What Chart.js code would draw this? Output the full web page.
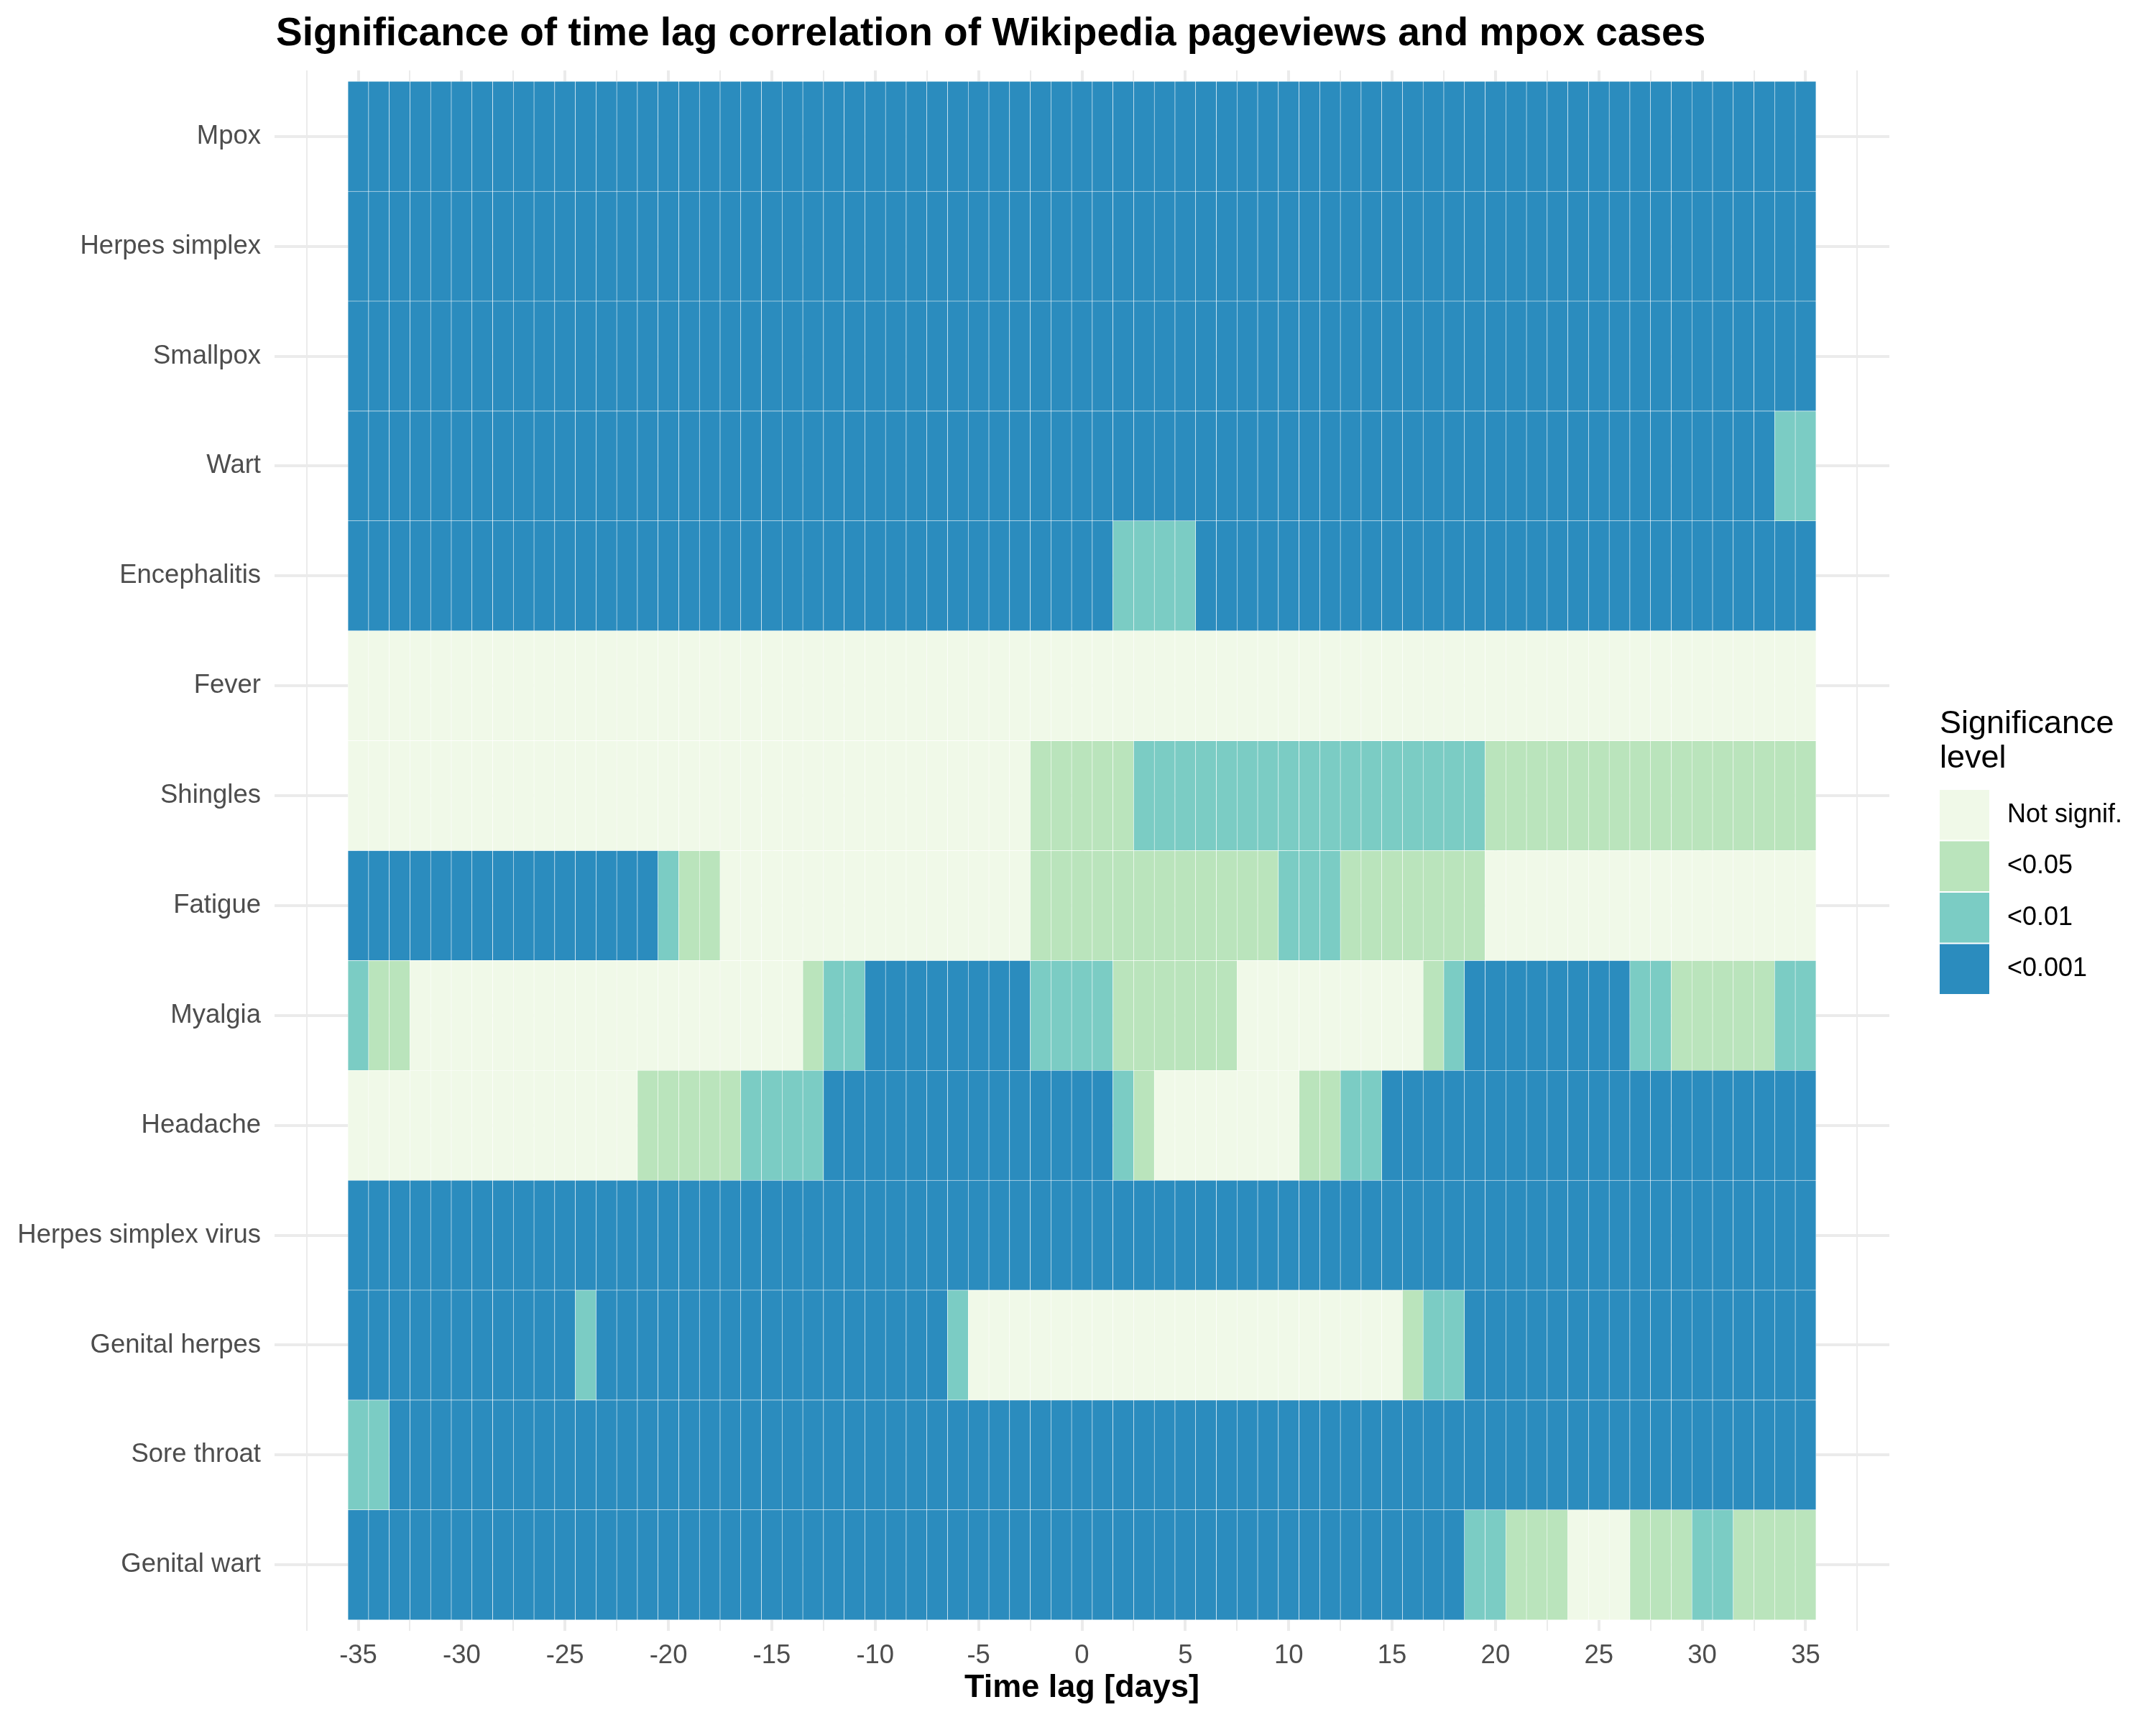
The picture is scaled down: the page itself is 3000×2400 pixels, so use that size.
<!DOCTYPE html>
<html>
<head>
<meta charset="utf-8">
<title>Significance of time lag correlation</title>
<script src="https://cdn.jsdelivr.net/npm/chart.js@4.4.1/dist/chart.umd.min.js"></script>
<style>
  body { margin: 0; background: #ffffff; }
  #wrap { width: 3000px; height: 2400px; }
</style>
</head>
<body>
<div id="wrap"><canvas id="chart-heat" width="3000" height="2400"></canvas></div>
<script>
// ─── DATA ────────────────────────────────────────────────────────────────────

const TITLE = 'Significance of time lag correlation of Wikipedia pageviews and mpox cases';

const lags = [-35, -34, -33, -32, -31, -30, -29, -28, -27, -26, -25, -24, -23, -22, -21, -20, -19, -18,
    -17, -16, -15, -14, -13, -12, -11, -10, -9, -8, -7, -6, -5, -4, -3, -2, -1, 0, 1, 2, 3, 4, 5, 6, 7, 8,
    9, 10, 11, 12, 13, 14, 15, 16, 17, 18, 19, 20, 21, 22, 23, 24, 25, 26, 27, 28, 29, 30, 31, 32, 33, 34, 35];

const majorTicks = [-35, -30, -25, -20, -15, -10, -5, 0, 5, 10, 15, 20, 25, 30, 35];

const rowNames = ['Mpox', 'Herpes simplex', 'Smallpox', 'Wart', 'Encephalitis', 'Fever', 'Shingles',
    'Fatigue', 'Myalgia', 'Headache', 'Herpes simplex virus', 'Genital herpes', 'Sore throat', 'Genital wart'];

// 0 = not significant, 1 = <0.05, 2 = <0.01, 3 = <0.001
const levelLabels = ['Not signif.', '<0.05', '<0.01', '<0.001'];
const levelColors = ['#f0f9e8', '#bae4bc', '#7bccc4', '#2b8cbe'];

// one value per lag, -35 … 35 (groups of ten)
const sigMpox = [3,3,3,3,3,3,3,3,3,3, 3,3,3,3,3,3,3,3,3,3, 3,3,3,3,3,3,3,3,3,3, 3,3,3,3,3,3,3,3,3,3, 3,3,3,3,3,3,3,3,3,3, 3,3,3,3,3,3,3,3,3,3, 3,3,3,3,3,3,3,3,3,3, 3];
const sigHerpesSimplex = [3,3,3,3,3,3,3,3,3,3, 3,3,3,3,3,3,3,3,3,3, 3,3,3,3,3,3,3,3,3,3, 3,3,3,3,3,3,3,3,3,3, 3,3,3,3,3,3,3,3,3,3, 3,3,3,3,3,3,3,3,3,3, 3,3,3,3,3,3,3,3,3,3, 3];
const sigSmallpox = [3,3,3,3,3,3,3,3,3,3, 3,3,3,3,3,3,3,3,3,3, 3,3,3,3,3,3,3,3,3,3, 3,3,3,3,3,3,3,3,3,3, 3,3,3,3,3,3,3,3,3,3, 3,3,3,3,3,3,3,3,3,3, 3,3,3,3,3,3,3,3,3,3, 3];
const sigWart = [3,3,3,3,3,3,3,3,3,3, 3,3,3,3,3,3,3,3,3,3, 3,3,3,3,3,3,3,3,3,3, 3,3,3,3,3,3,3,3,3,3, 3,3,3,3,3,3,3,3,3,3, 3,3,3,3,3,3,3,3,3,3, 3,3,3,3,3,3,3,3,3,2, 2];
const sigEncephalitis = [3,3,3,3,3,3,3,3,3,3, 3,3,3,3,3,3,3,3,3,3, 3,3,3,3,3,3,3,3,3,3, 3,3,3,3,3,3,3,2,2,2, 2,3,3,3,3,3,3,3,3,3, 3,3,3,3,3,3,3,3,3,3, 3,3,3,3,3,3,3,3,3,3, 3];
const sigFever = [0,0,0,0,0,0,0,0,0,0, 0,0,0,0,0,0,0,0,0,0, 0,0,0,0,0,0,0,0,0,0, 0,0,0,0,0,0,0,0,0,0, 0,0,0,0,0,0,0,0,0,0, 0,0,0,0,0,0,0,0,0,0, 0,0,0,0,0,0,0,0,0,0, 0];
const sigShingles = [0,0,0,0,0,0,0,0,0,0, 0,0,0,0,0,0,0,0,0,0, 0,0,0,0,0,0,0,0,0,0, 0,0,0,1,1,1,1,1,2,2, 2,2,2,2,2,2,2,2,2,2, 2,2,2,2,2,1,1,1,1,1, 1,1,1,1,1,1,1,1,1,1, 1];
const sigFatigue = [3,3,3,3,3,3,3,3,3,3, 3,3,3,3,3,2,1,1,0,0, 0,0,0,0,0,0,0,0,0,0, 0,0,0,1,1,1,1,1,1,1, 1,1,1,1,1,2,2,2,1,1, 1,1,1,1,1,0,0,0,0,0, 0,0,0,0,0,0,0,0,0,0, 0];
const sigMyalgia = [2,1,1,0,0,0,0,0,0,0, 0,0,0,0,0,0,0,0,0,0, 0,0,1,2,2,3,3,3,3,3, 3,3,3,2,2,2,2,1,1,1, 1,1,1,0,0,0,0,0,0,0, 0,0,1,2,3,3,3,3,3,3, 3,3,2,2,1,1,1,1,1,2, 2];
const sigHeadache = [0,0,0,0,0,0,0,0,0,0, 0,0,0,0,1,1,1,1,1,2, 2,2,2,3,3,3,3,3,3,3, 3,3,3,3,3,3,3,2,1,0, 0,0,0,0,0,0,1,1,2,2, 3,3,3,3,3,3,3,3,3,3, 3,3,3,3,3,3,3,3,3,3, 3];
const sigHerpesSimplexVirus = [3,3,3,3,3,3,3,3,3,3, 3,3,3,3,3,3,3,3,3,3, 3,3,3,3,3,3,3,3,3,3, 3,3,3,3,3,3,3,3,3,3, 3,3,3,3,3,3,3,3,3,3, 3,3,3,3,3,3,3,3,3,3, 3,3,3,3,3,3,3,3,3,3, 3];
const sigGenitalHerpes = [3,3,3,3,3,3,3,3,3,3, 3,2,3,3,3,3,3,3,3,3, 3,3,3,3,3,3,3,3,3,2, 0,0,0,0,0,0,0,0,0,0, 0,0,0,0,0,0,0,0,0,0, 0,1,2,2,3,3,3,3,3,3, 3,3,3,3,3,3,3,3,3,3, 3];
const sigSoreThroat = [2,2,3,3,3,3,3,3,3,3, 3,3,3,3,3,3,3,3,3,3, 3,3,3,3,3,3,3,3,3,3, 3,3,3,3,3,3,3,3,3,3, 3,3,3,3,3,3,3,3,3,3, 3,3,3,3,3,3,3,3,3,3, 3,3,3,3,3,3,3,3,3,3, 3];
const sigGenitalWart = [3,3,3,3,3,3,3,3,3,3, 3,3,3,3,3,3,3,3,3,3, 3,3,3,3,3,3,3,3,3,3, 3,3,3,3,3,3,3,3,3,3, 3,3,3,3,3,3,3,3,3,3, 3,3,3,3,2,2,1,1,1,0, 0,0,1,1,1,2,2,1,1,1, 1];

const rowLevels = [sigMpox, sigHerpesSimplex, sigSmallpox, sigWart, sigEncephalitis, sigFever, sigShingles,
    sigFatigue, sigMyalgia, sigHeadache, sigHerpesSimplexVirus, sigGenitalHerpes, sigSoreThroat, sigGenitalWart];

// ─── STYLE ───────────────────────────────────────────────────────────────────

const FONT = "'Liberation Sans', Arial, Helvetica, sans-serif";
const GRID = '#ebebeb';
const AXIS_TEXT = '#4d4d4d';

Chart.defaults.font.family = FONT;

// ─── TILES: one floating bar per (row, lag) ─────────────────────────────────

const cells = [];
const cellColors = [];
rowLevels.forEach((levels, r) => {
    levels.forEach((lvl, i) => {
        cells.push({ x: [lags[i] - 0.5, lags[i] + 0.5], y: r });
        cellColors.push(levelColors[lvl]);
    });
});

// x ticks: majors every 5 plus minor grid lines half way between
const xTickValues = [];
majorTicks.forEach(v => { xTickValues.push(v - 2.5, v); });
xTickValues.push(majorTicks[majorTicks.length - 1] + 2.5);

// title + legend drawn straight on the canvas
const decorPlugin = {
    id: 'decor',
    afterDraw(chart) {
        const { ctx, chartArea } = chart;
        ctx.save();
        ctx.fillStyle = '#000000';
        ctx.textAlign = 'left';
        ctx.textBaseline = 'alphabetic';
        ctx.font = `bold 55px ${FONT}`;
        ctx.fillText(TITLE, chartArea.left + 2, 63);

        const lx = chartArea.right + 70;
        ctx.font = `45px ${FONT}`;
        ctx.fillText('Significance', lx, 1020);
        ctx.fillText('level', lx, 1068);

        const keyW = 69, keyH = 71.5, keyTop = 1098;
        ctx.font = `36px ${FONT}`;
        ctx.textBaseline = 'middle';
        levelLabels.forEach((lab, i) => {
            const y = keyTop + i * keyH;
            ctx.fillStyle = levelColors[i];
            ctx.fillRect(lx, y + 1, keyW, keyH - 2);
            ctx.fillStyle = '#000000';
            ctx.fillText(lab, lx + 94, y + keyH / 2);
        });
        ctx.restore();
    }
};

const ctx = document.getElementById('chart-heat').getContext('2d');
const chart = new Chart(ctx, {
    type: 'bar',
    data: {
        datasets: [{
            label: 'Significance level',
            data: cells,
            backgroundColor: cellColors,
            borderColor: 'rgba(255,255,255,0.85)',
            borderWidth: 0.6,
            borderSkipped: false,
            barPercentage: 1,
            categoryPercentage: 1,
        }]
    },
    options: {
        indexAxis: 'y',
        responsive: false,
        animation: false,
        layout: { padding: { top: 98, right: 371, bottom: 0, left: 0 } },
        plugins: {
            legend: { display: false },
            title: { display: false },
            tooltip: { enabled: false },
        },
        scales: {
            x: {
                type: 'linear',
                min: -39.05, max: 39.05,
                offset: false,
                afterBuildTicks: scale => { scale.ticks = xTickValues.map(v => ({ value: v })); },
                afterFit: scale => { scale.height = 131; },
                grid: {
                    color: GRID,
                    lineWidth: c => (c.tick && c.tick.value % 5 === 0) ? 4 : 2,
                    drawTicks: false,
                    offset: false,
                },
                border: { display: false },
                ticks: {
                    autoSkip: false,
                    maxRotation: 0,
                    padding: 13,
                    color: AXIS_TEXT,
                    font: { size: 36.5 },
                    callback: v => (v % 5 === 0 ? String(v) : ''),
                },
                title: {
                    display: true,
                    text: 'Time lag [days]',
                    color: '#000000',
                    font: { size: 45, weight: 'bold' },
                    padding: { top: 0, bottom: 24 },
                },
            },
            y: {
                type: 'linear',
                reverse: true,
                min: -0.6, max: 13.6,
                offset: false,
                afterBuildTicks: scale => { scale.ticks = rowNames.map((_, i) => ({ value: i })); },
                afterFit: scale => { scale.width = 382; },
                grid: { color: GRID, lineWidth: 4, drawTicks: false, offset: false },
                border: { display: false },
                ticks: {
                    autoSkip: false,
                    padding: 19,
                    color: AXIS_TEXT,
                    font: { size: 36.5 },
                    callback: v => rowNames[v],
                },
            },
        },
    },
    plugins: [decorPlugin],
});
</script>
</body>
</html>
